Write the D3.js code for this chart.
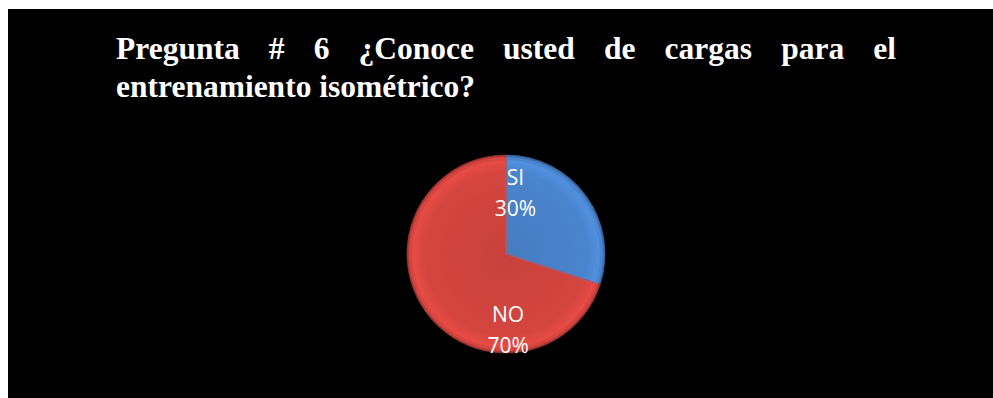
<!DOCTYPE html>
<html>
<head>
<meta charset="utf-8">
<script src="https://d3js.org/d3.v7.min.js"></script>
<style>
body {
    margin: 0;
    background: #fff;
    width: 993px;
    height: 398px;
    overflow: hidden;
}
#panel {
    position: absolute;
    left: 8px;
    top: 9px;
    width: 985px;
    height: 389px;
    background: #000;
}
#title {
    position: absolute;
    left: 116px;
    top: 30px;
    width: 780px;
    font-family: "Liberation Serif", "Times New Roman", serif;
    font-weight: bold;
    font-size: 31.5px;
    line-height: 37.5px;
    color: #fff;
    text-align: justify;
}
#chart {
    position: absolute;
    left: 0;
    top: 0;
}
</style>
</head>
<body>
<div id="panel"></div>
<div id="title"></div>
<div id="chart"></div>

<script>
// data
var categories = ["SI", "NO"];
var values = [30, 70];
var colors = ["#4a84cc", "#d4453f"];
var titleText = "Pregunta # 6 ¿Conoce usted de cargas para el entrenamiento isométrico?";

d3.select("#title").text(titleText);

var width = 993, height = 398;
var cx = 506, cy = 254, radius = 99;

var svg = d3.select("#chart")
    .append("svg")
    .attr("width", width)
    .attr("height", height);

var defs = svg.append("defs");

// bevel-ish gradient for each slice
categories.forEach(function (c, i) {
    var base = d3.color(colors[i]);
    var g = defs.append("radialGradient")
        .attr("id", "grad-" + i)
        .attr("gradientUnits", "userSpaceOnUse")
        .attr("cx", 0).attr("cy", 0).attr("r", radius);
    g.append("stop").attr("offset", "0%").attr("stop-color", base.darker(0.15));
    g.append("stop").attr("offset", "82%").attr("stop-color", base);
    g.append("stop").attr("offset", "94%").attr("stop-color", base.brighter(0.25));
    g.append("stop").attr("offset", "100%").attr("stop-color", base.darker(0.7));
});

var pie = d3.pie().sort(null).value(function (d) { return d; });
var arc = d3.arc().innerRadius(0).outerRadius(radius);

var arcs = pie(values);

var g = svg.append("g")
    .attr("transform", "translate(" + cx + "," + cy + ")");

g.selectAll("path.slice")
    .data(arcs)
    .enter().append("path")
    .attr("class", "slice")
    .attr("d", arc)
    .attr("fill", function (d, i) { return "url(#grad-" + i + ")"; })
    .attr("stroke", function (d, i) { return d3.color(colors[i]).darker(0.9); })
    .attr("stroke-width", 0.8);

// inner edge highlight (bevel)
var inner = d3.arc().innerRadius(0).outerRadius(radius - 3);
g.selectAll("path.hl")
    .data(arcs)
    .enter().append("path")
    .attr("class", "hl")
    .attr("d", inner)
    .attr("fill", "none")
    .attr("stroke", function (d, i) { return d3.color(colors[i]).brighter(0.4); })
    .attr("stroke-opacity", 0.4)
    .attr("stroke-width", 1.5);

// label placement: angle fraction within slice and radius fraction
var labelAngle = [0.09, 0.28];
var labelRadius = [0.56, 0.83];

var labels = g.selectAll("g.label")
    .data(arcs)
    .enter().append("g")
    .attr("class", "label")
    .attr("transform", function (d, i) {
        var a = d.startAngle + (d.endAngle - d.startAngle) * labelAngle[i];
        var r = radius * labelRadius[i];
        return "translate(" + (Math.sin(a) * r) + "," + (-Math.cos(a) * r) + ")";
    });

labels.append("text")
    .attr("text-anchor", "middle")
    .attr("y", -14)
    .attr("fill", "#fff")
    .style("font-family", "'Open Sans', sans-serif")
    .style("font-size", "21px")
    .text(function (d, i) { return categories[i]; });

labels.append("text")
    .attr("text-anchor", "middle")
    .attr("y", 17)
    .attr("fill", "#fff")
    .style("font-family", "'Open Sans', sans-serif")
    .style("font-size", "21px")
    .text(function (d, i) { return values[i] + "%"; });
</script>
</body>
</html>
